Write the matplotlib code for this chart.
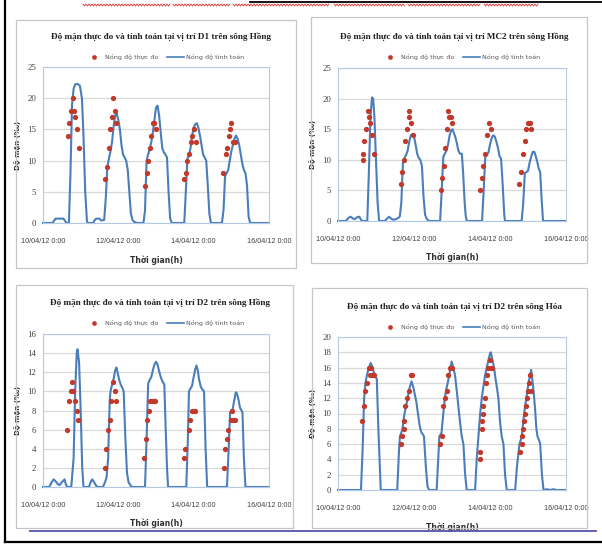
import numpy as np
import matplotlib
matplotlib.use('Agg')
import matplotlib.pyplot as plt
from matplotlib.patches import Rectangle
from matplotlib.lines import Line2D

W, H = 602, 550

# time axis in hours counted from 10/04/12 0:00
date_ticks = [0, 48, 96, 144]
date_labels = ['10/04/12 0:00', '12/04/12 0:00', '14/04/12 0:00', '16/04/12 0:00']

# --- D1, sông Hồng ---
d1_calc = np.array([
    (0, 0), (6, 0), (8, 0.7), (13, 0.7), (15, 0), (16.5, 0), (17.5, 8), (18.5, 19), (19.5, 21.5),
    (20.5, 22.2), (22, 22.3), (23.5, 22), (24.8, 20), (25.8, 14), (26.9, 5), (28, 0.3), (28.4, 0),
    (32, 0), (33, 0.5), (34, 0.7), (36, 0.7), (37, 0.4), (39, 0.5), (40, 4), (41, 9), (42, 10.3),
    (43, 11.5), (44, 13), (45, 15.5), (46, 17.3), (47, 17.5), (48, 16.5), (49, 15), (50, 12.5),
    (51, 11), (52, 10.5), (53, 10), (54, 8.5), (55, 5), (56, 1.5), (57, 0.5), (58, 0.2), (60, 0),
    (64, 0), (65, 2), (66, 10), (67, 11), (68, 11.8), (69, 13), (70, 14.5), (71, 16.5), (72, 18.5),
    (73, 18.8), (74, 17.2), (75, 14.5), (76, 12), (77, 11.3), (78, 11), (79, 10.5), (80, 5),
    (81, 0.8), (82, 0),
    (90, 0), (91, 5), (92, 10.3), (93, 10.8), (94, 12), (95, 14), (96, 15.3), (97, 15.8), (98, 16),
    (99, 15.3), (100, 14), (101, 12.5), (102, 11), (103, 10.5), (104, 10), (105, 6), (106, 1.5), (107, 0),
    (114, 0), (115, 2), (116, 7.5), (117, 8), (118, 8.5), (119, 10), (120, 11.5), (121, 12.5),
    (122, 13.5), (123, 14), (124, 13.5), (125, 12.5), (126, 11), (127, 9.5), (128, 8.5), (129, 8),
    (130, 6), (131, 1), (132, 0), (144, 0)])
d1_obs = np.array([
    (16, 14), (16.8, 16), (18, 18), (18.9, 20), (19.9, 18), (20.5, 17), (21.6, 15), (22.9, 12),
    (39.6, 7), (40.7, 9), (41.9, 12), (43, 15), (43.8, 17), (44.9, 20), (46, 18), (46.6, 16),
    (65, 6), (66.1, 8), (66.9, 10), (68, 12), (69, 14), (69.9, 16), (70.9, 16), (71.8, 15),
    (89.8, 7), (90.8, 8), (91.9, 10), (93, 11), (94, 13), (95.1, 14), (96.2, 15), (97.2, 13),
    (115, 8), (116.3, 11), (117.3, 12), (118.4, 14), (119, 15), (120.1, 16), (121.3, 13), (122.4, 13)])

# --- MC2, sông Hồng ---
mc2_calc = np.array([
    (0, 0), (5, 0), (6.5, 0.5), (8, 0.7), (9.5, 0.4), (10.5, 0.3), (12, 0.6), (13.5, 0.7), (14.5, 0.2),
    (15.5, 0), (18.5, 0), (19.5, 8), (20.5, 17), (21.5, 20.2), (22.2, 20), (23, 17), (24, 10), (25, 3), (26, 0),
    (29.5, 0), (31, 0.4), (32.3, 0.7), (33.5, 0.4), (35, 0.2), (36.5, 0.3), (38, 0.5), (39, 0.7), (40, 3),
    (41, 9.5), (42, 10.3), (43, 10.8), (44, 11.5), (45, 13), (46, 14), (47, 14.2), (48, 13.8), (49, 12.5),
    (50, 11), (51, 10.3), (52, 10), (53, 9), (54, 4), (55, 1), (56, 0.4), (57, 0.1), (58, 0),
    (64.5, 0), (65.5, 5), (66.5, 10.5), (67.5, 11), (68.5, 11.5), (69.5, 12.5), (70.5, 14), (71.5, 14.8),
    (72.3, 15), (73, 14.5), (74, 13.8), (75, 12.8), (76, 11.5), (77, 11), (78.2, 11), (79, 8), (80, 3),
    (80.6, 1), (81.3, 0),
    (91, 0), (92, 5), (93, 10.5), (94, 10.8), (95, 11.2), (96, 12.5), (97, 13.5), (98, 14), (99, 13.8),
    (100, 13), (101, 12), (102, 10.6), (103, 10.2), (104, 6), (105, 1), (105.5, 0),
    (116, 0), (117, 3), (118, 7.8), (119, 8), (120, 8.2), (121, 9.5), (122, 10.5), (123, 11.3), (124, 11.3),
    (125, 10.5), (126, 9.5), (126.8, 8.5), (127.7, 8), (128.5, 4), (129.5, 0), (144, 0)])
mc2_obs = np.array([
    (15.8, 10), (16, 11), (16.7, 13), (17.7, 15), (18.8, 18), (19.8, 17), (20.5, 16), (21.3, 14), (22.8, 11),
    (39.5, 6), (40.5, 8), (41.8, 10), (42.6, 13), (43.5, 15), (44.8, 18), (45, 17), (46, 16), (47.1, 14),
    (64.8, 5), (65.7, 7), (66.7, 9), (67.8, 12), (68.6, 15), (69.7, 18), (70.3, 17), (71.6, 17), (72, 16),
    (89.7, 5), (90.8, 7), (91.6, 9), (92.7, 11), (93.9, 14), (95.2, 16), (96.5, 15),
    (114.4, 6), (115.7, 8), (117, 11), (117.8, 13), (118.9, 15), (120.1, 16), (121.2, 16), (122, 15)])

# --- D2, sông Hồng ---
d2h_calc = np.array([
    (0, 0), (4, 0), (5.5, 0.5), (6.8, 0.8), (8, 0.6), (9.5, 0.3), (10.6, 0.2), (12, 0.5), (13.8, 0.8),
    (14.5, 0.3), (15.5, 0), (18, 0), (19.5, 3), (20.5, 10), (21.5, 14), (22, 14.4), (23, 13), (24, 8),
    (25, 2), (25.8, 0),
    (29.3, 0), (30.3, 0.5), (31.4, 0.8), (32.5, 0.5), (34, 0.1), (35, 0), (38.2, 0), (39.5, 0.5),
    (40.5, 1), (41.5, 3), (42.5, 9), (43, 10), (44, 10.7), (45, 11.3), (46, 12.2), (46.8, 12.5),
    (47.5, 12), (48.4, 11.3), (49.5, 10.7), (50.5, 10.4), (51.4, 10), (52.5, 5), (53.5, 1.5),
    (54.5, 0.5), (56, 0.1), (57, 0),
    (65, 0), (66, 5), (67, 10.8), (68, 11.2), (69, 11.5), (70, 12.2), (71, 12.8), (72, 13.1), (73, 12.8),
    (74, 12.1), (75, 11.5), (76, 11.1), (77.3, 10.7), (78, 7), (79, 2), (79.7, 0),
    (91.3, 0), (92.3, 5), (93, 10), (94, 10.3), (95, 10.6), (96, 11.5), (97, 12.3), (97.8, 12.7),
    (98.5, 12.3), (99.5, 11.2), (100.5, 10.5), (101.5, 10.2), (102.6, 10), (103.6, 4), (104.6, 0),
    (117.2, 0), (118.3, 4), (119.2, 7.8), (120, 8), (120.8, 8.1), (121.8, 9), (122.8, 9.9), (123.5, 9.8),
    (124.5, 9.2), (125.5, 8.3), (126.5, 8), (127.1, 7.8), (128, 3), (129, 0), (144, 0)])
d2h_obs = np.array([
    (15.3, 6), (16.6, 9), (17.6, 10), (18.7, 11), (19.1, 10), (20.6, 9), (21.5, 8), (22.3, 7),
    (39.5, 2), (40.4, 4), (41.4, 6), (42.5, 7), (43.5, 9), (44.6, 11), (45.7, 10), (46.7, 9),
    (64.6, 3), (65.4, 5), (66.5, 7), (67.5, 8), (68.4, 9), (69.5, 9), (70.5, 9), (71.6, 9),
    (89.8, 3), (90.7, 4), (92.8, 6), (93.9, 7), (94.9, 8), (96, 8), (97.1, 8),
    (115.1, 2), (116.2, 4), (117, 5), (118.1, 6), (119.6, 7), (120.4, 8), (121.3, 7), (122.3, 7)])

# --- D2, sông Hóa ---
d2k_calc = np.array([
    (0, 0), (14.5, 0), (15.5, 5), (16.5, 12), (17.3, 14), (18.5, 15.2), (19.5, 16), (20.7, 16.6),
    (21.5, 16.2), (22.4, 15.5), (23.5, 15), (24.5, 14.5), (25.5, 8), (27, 0),
    (37.4, 0), (38.5, 5), (39.1, 7), (40, 7.5), (40.7, 8), (42, 10), (43, 11), (44, 12), (45, 13.2),
    (46.4, 14.2), (47.5, 13.5), (48.5, 12.5), (49.5, 11.5), (50.5, 10), (51.5, 8.5), (52.5, 7.6),
    (53.5, 7.3), (54.3, 7), (55.5, 3), (56.5, 0.5), (57.5, 0),
    (62.3, 0), (63.3, 4), (64, 7), (65.4, 7.5), (66.5, 10), (67.5, 12), (68.2, 13), (69.3, 14), (70.3, 15),
    (71, 16), (71.8, 16.8), (72.8, 16), (73.9, 15), (75, 13), (76, 11), (77, 9), (78, 7.2), (79.2, 6),
    (80.3, 2), (81.3, 0),
    (86.6, 0), (87.6, 4), (88.7, 7), (89.8, 10), (90.8, 12), (91.8, 13.5), (92.9, 15), (94, 16), (95, 17),
    (96, 17.8), (96.5, 18), (97.5, 17), (98.6, 16), (99.5, 14.5), (100.5, 13.2), (101.3, 12), (102.3, 9),
    (103.4, 7), (104.5, 6), (105.5, 2), (106.6, 0),
    (111.9, 0), (113, 3), (114.6, 6), (116.1, 7), (117, 9), (118.2, 11), (119.5, 12.8), (120.5, 14.2),
    (121.4, 15), (122, 15.7), (122.7, 14.5), (123.5, 13), (124.5, 10.5), (125.3, 8), (126, 7), (127, 6.5),
    (127.7, 6), (128.8, 2), (129.8, 0), (132, 0.1), (134, 0), (136, 0.1), (138, 0), (144, 0)])
d2k_obs = np.array([
    (15.4, 9), (16.3, 11), (17.3, 13), (18.2, 14), (19.4, 16), (20.1, 15), (20.9, 16), (21.3, 15), (22.6, 15),
    (39.7, 6), (40.5, 7), (41.6, 8), (41.8, 9), (42.6, 11), (43.5, 12), (44.8, 13), (46.2, 15), (46.9, 15),
    (64.6, 6), (65.4, 7), (66.5, 11), (67.8, 12), (68.6, 13), (69.5, 15), (70.9, 16), (71.8, 16),
    (89.7, 4), (89.9, 5), (91, 8), (91.2, 9), (91.4, 10), (91.8, 11), (92.9, 12), (93.7, 14), (94.2, 15),
    (95, 16), (95.8, 17), (96.5, 16), (97.1, 16),
    (115, 5), (115.9, 6), (116.5, 7), (116.9, 8), (117.6, 9), (118, 10), (118.6, 11), (119.3, 12),
    (119.9, 13), (120.8, 14), (121.2, 15), (121.8, 13)])

titles = ['Độ mặn thực đo và tính toán tại vị trí D1 trên sông Hồng',
          'Độ mặn thực đo và tính toán tại vị trí MC2 trên sông Hồng',
          'Độ mặn thực đo và tính toán tại vị trí D2 trên sông Hồng',
          'Độ mặn thực đo và tính toán tại vị trí D2 trên sông Hóa']
legend_labels = ['Nồng độ thực đo', 'Nồng độ tính toán']
y_max = [25, 25, 16, 20]
y_step = [5, 5, 2, 2]
calc = [d1_calc, mc2_calc, d2h_calc, d2k_calc]
obs = [d1_obs, mc2_obs, d2h_obs, d2k_obs]

# pixel layout: chart box, plot area, title y, legend y, ylabel x, xlabel y
boxes = [(16, 20, 296, 268), (311, 17, 587, 263), (16, 285, 293, 528), (312, 288, 587, 528)]
areas = [(43, 67, 269, 223), (338, 68, 566, 221), (43, 334, 269, 487), (338, 337, 566, 490)]
title_y = [37, 37, 303, 307]
legend_y = [57, 57, 323, 327]
ylabel_x = [21, 316, 21, 316]
xlabel_y = [255, 252, 518, 523]

BLUE = '#4a7ebb'
RED = '#c0392b'
GRID = '#d9d9d9'

fig = plt.figure(figsize=(W / 100, H / 100), dpi=100)


def fx(x):
    return x / W


def fy(y):
    return 1 - y / H


for i in range(4):
    bx0, by0, bx1, by1 = boxes[i]
    fig.add_artist(Rectangle((fx(bx0), fy(by1)), fx(bx1 - bx0), (by1 - by0) / H,
                             transform=fig.transFigure, fill=False, ec='#c6c6c6', lw=0.9))
    ax0, ay0, ax1, ay1 = areas[i]
    ax = fig.add_axes([fx(ax0), fy(ay1), fx(ax1 - ax0), (ay1 - ay0) / H])
    ax.set_xlim(0, 144)
    ax.set_ylim(0, y_max[i])
    ax.set_yticks(np.arange(0, y_max[i] + 0.1, y_step[i]))
    ax.set_xticks(date_ticks)
    ax.set_xticklabels(date_labels)
    ax.grid(axis='y', color=GRID, lw=0.9)
    ax.set_axisbelow(True)
    for s in ax.spines.values():
        s.set_color('#b4c9e6')
        s.set_linewidth(0.8)
    ax.tick_params(length=0, labelcolor='#404040')
    ax.tick_params(axis='x', pad=11, labelsize=5.2)
    ax.tick_params(axis='y', pad=5, labelsize=6.3)
    for lab in ax.get_yticklabels():
        lab.set_fontfamily('Liberation Serif')
    for lab in ax.get_xticklabels():
        lab.set_fontfamily(['Liberation Sans Narrow', 'Liberation Sans'])

    ax.plot(calc[i][:, 0], calc[i][:, 1], color=BLUE, lw=1.5, clip_on=False)
    ax.plot(obs[i][:, 0], obs[i][:, 1], 'o', color=RED, ms=3.8, mec='none', clip_on=False)

    ax.set_ylabel('Độ mặn (‰)', fontsize=5, fontweight='bold', color='#303030')
    ax.yaxis.set_label_coords(-(ax0 - ylabel_x[i]) / (ax1 - ax0), 0.5)
    ax.set_xlabel('Thời gian(h)', fontsize=5.5, fontweight='bold', color='#303030')
    ax.xaxis.set_label_coords(0.5, -(xlabel_y[i] - ay1) / (ay1 - ay0))

    fig.text(fx((bx0 + bx1) / 2 + 5), fy(title_y[i]), titles[i], ha='center', va='center',
             fontsize=6.6, fontweight='bold', family='Liberation Serif', color='#202020')

    handles = [Line2D([], [], ls='none', marker='o', color=RED, ms=3.4, mec='none'),
               Line2D([], [], color=BLUE, lw=1.2)]
    fig.legend(handles, legend_labels, ncol=2, frameon=False,
               loc='center', bbox_to_anchor=(fx((ax0 + ax1) / 2 + 9), fy(legend_y[i])),
               fontsize=4.6, handlelength=2.6, handletextpad=0.3, columnspacing=1.4,
               labelcolor='#555555', borderpad=0)

# page frame, spell-check squiggle and the rule under the figures
page = fig.add_axes([0, 0, 1, 1], facecolor='none')
page.set_xlim(0, W)
page.set_ylim(H, 0)
page.axis('off')
page.plot([5, 5], [0, 542], color='black', lw=1.6)
page.plot([5, 602], [542, 542], color='black', lw=1.6)
page.plot([250, 602], [2, 2], color='black', lw=1.3)
page.plot([30, 596], [531, 531], color='#5454a8', lw=1.3)
for x0, x1 in [(83, 170), (173, 230), (233, 330), (334, 405), (408, 480), (484, 538)]:
    xs = np.arange(x0, x1 + 0.1, 1.5)
    ys = 5 + np.where(np.arange(len(xs)) % 2 == 0, -1, 1)
    page.plot(xs, ys, color='#e03030', lw=0.6)

fig.savefig('out.png', dpi=100)
